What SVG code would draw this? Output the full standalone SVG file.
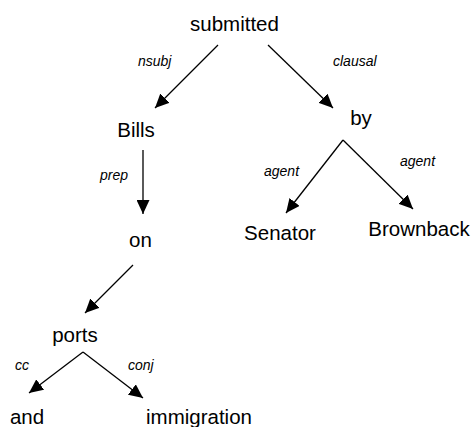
<svg xmlns="http://www.w3.org/2000/svg" width="472" height="427" viewBox="0 0 472 427">
  <style>
    .word { font-family: "Liberation Sans", Arial, sans-serif; font-size: 20.5px; fill: #000; text-anchor: middle; }
    .rel { font-family: "Liberation Sans", Arial, sans-serif; font-size: 14px; font-style: italic; fill: #000; }
    .edge { stroke: #000; stroke-width: 1.3; fill: none; marker-end: url(#head); }
  </style>
  <defs>
    <marker id="head" markerUnits="userSpaceOnUse" markerWidth="15" markerHeight="13" viewBox="0 0 15 13" refX="14" refY="6.5" orient="auto">
      <path d="M0,0 L14,6.5 L0,13 Z" fill="#000"/>
    </marker>
  </defs>

  <!-- dependency edges -->
  <g id="edges">
    <line class="edge" x1="218" y1="45" x2="155" y2="108"/>
    <line class="edge" x1="268" y1="45" x2="333" y2="108"/>
    <line class="edge" x1="143" y1="150" x2="143" y2="214"/>
    <line class="edge" x1="343" y1="140" x2="286" y2="213"/>
    <line class="edge" x1="343" y1="140" x2="413" y2="209"/>
    <line class="edge" x1="133" y1="265" x2="85" y2="313"/>
    <line class="edge" x1="83" y1="352" x2="29" y2="393"/>
    <line class="edge" x1="83" y1="352" x2="143" y2="398"/>
    <text class="rel" x="138" y="66">nsubj</text>
    <text class="rel" x="333" y="66">clausal</text>
    <text class="rel" x="100" y="180">prep</text>
    <text class="rel" x="264" y="176">agent</text>
    <text class="rel" x="400" y="166">agent</text>
    <text class="rel" x="15" y="370">cc</text>
    <text class="rel" x="128" y="370">conj</text>
  </g>

  <!-- words -->
  <g id="n-submitted"><text class="word" x="234.5" y="31">submitted</text></g>
  <g id="n-bills"><text class="word" x="136" y="137">Bills</text></g>
  <g id="n-by"><text class="word" x="361" y="125">by</text></g>
  <g id="n-on"><text class="word" x="140.5" y="247">on</text></g>
  <g id="n-senator"><text class="word" x="280" y="240">Senator</text></g>
  <g id="n-brownback"><text class="word" x="419" y="236">Brownback</text></g>
  <g id="n-ports"><text class="word" x="75" y="342">ports</text></g>
  <g id="n-and"><text class="word" x="27" y="424">and</text></g>
  <g id="n-immigration"><text class="word" x="199" y="424">immigration</text></g>
</svg>
